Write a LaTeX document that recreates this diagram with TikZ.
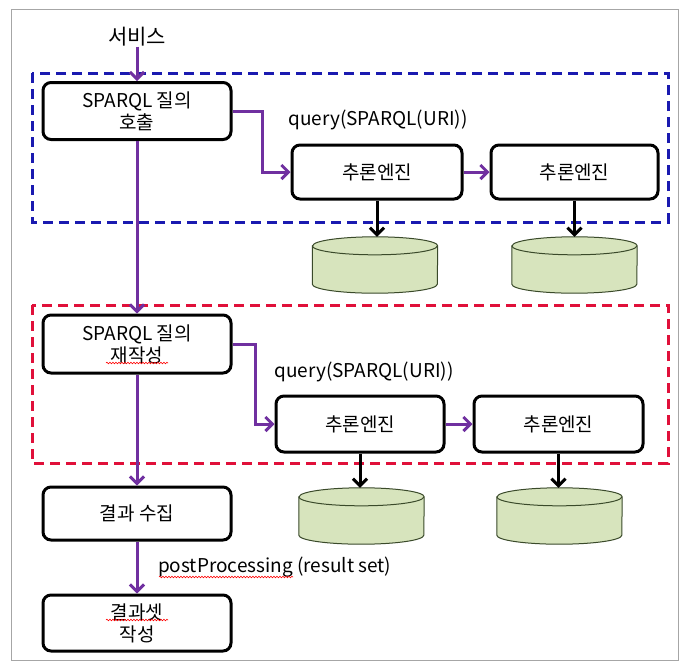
\documentclass[tikz,border=0pt]{standalone}
\usepackage{fontspec}
\setmainfont{Noto Sans CJK KR}
\usetikzlibrary{arrows.meta,calc,decorations.pathmorphing}
\definecolor{purp}{HTML}{7030A0}
\definecolor{dblue}{HTML}{1A1AB0}
\definecolor{dred}{HTML}{E0103A}
\definecolor{cylgreen}{HTML}{D7E4BD}
\definecolor{cylline}{HTML}{3A4A2A}
\newcommand\dbcyl[3]{%
  \node[cyln] (#1) at (#2,#3) {};
  \draw[cylshape] ($(#1.north west)+(0,9)$) -- ($(#1.south west)+(0,-9)$)
    arc[start angle=180,end angle=0,x radius=62.5,y radius=9]
    -- ($(#1.north east)+(0,9)$)
    arc[start angle=0,end angle=-180,x radius=62.5,y radius=9] -- cycle;
  \draw[cylshape,fill=none] ($(#1.north west)+(0,9)$)
    arc[start angle=180,end angle=0,x radius=62.5,y radius=9];
}
\begin{document}
\begin{tikzpicture}[x=1pt,y=-1pt,
  box/.style={draw=black, line width=3pt, rounded corners=8pt, fill=white, inner sep=0pt, align=center, font=\fontsize{19}{22}\selectfont},
  flow/.style={draw=purp, line width=3pt, -{Straight Barb[length=7pt,width=14pt]}},
  dnarrow/.style={draw=black, line width=3pt, -{Straight Barb[length=7pt,width=14pt]}},
  lbl/.style={font=\fontsize{19}{22}\selectfont, inner sep=0pt},
  grp/.style={line width=3pt, dash pattern=on 10pt off 6pt},
  cyln/.style={minimum width=125pt, minimum height=56pt, inner sep=0pt},
  cylshape/.style={draw=cylline, line width=1pt, fill=cylgreen},
  spell/.style={draw=red, line width=0.6pt, decorate, decoration={snake, amplitude=0.8pt, segment length=3pt}}
]
\useasboundingbox (0,0) rectangle (686,662);
\fill[white] (0,0) rectangle (686,662);
\draw[gray!70, line width=1pt] (11,9) rectangle (678,660);

% group frames
\draw[grp, draw=dblue] (32,73) rectangle (668,222);
\draw[grp, draw=dred] (32,305) rectangle (668,463);

% left column
\node[lbl, font=\fontsize{21}{24}\selectfont] (svc) at (137,37) {서비스};
\node[box, minimum width=188pt, minimum height=57pt] (box1) at (137,111) {SPARQL 질의\\호출};
\node[box, minimum width=188pt, minimum height=58pt] (box4) at (137,344) {SPARQL 질의\\재작성};
\node[box, minimum width=188pt, minimum height=53pt] (box7) at (137,513.5) {결과 수집};
\node[box, minimum width=188pt, minimum height=56pt] (box8) at (137,623) {결과셋\\작성};

% engines
\node[box, minimum width=170pt, minimum height=54pt] (box2) at (377,172) {추론엔진};
\node[box, minimum width=167pt, minimum height=54pt] (box3) at (574.5,172) {추론엔진};
\node[box, minimum width=168pt, minimum height=56pt] (box5) at (360,424) {추론엔진};
\node[box, minimum width=169pt, minimum height=56pt] (box6) at (558.5,424) {추론엔진};

% databases
\dbcyl{cyl1}{375}{265}
\dbcyl{cyl2}{574.5}{265}
\dbcyl{cyl3}{361.5}{516}
\dbcyl{cyl4}{559.5}{516}

% labels
\node[lbl] (q1) at (378,120) {query(SPARQL(URI))};
\node[lbl] (q2) at (364,372) {query(SPARQL(URI))};
\node[lbl, anchor=west] (pp) at (158,567) {postProcessing (result set)};

% spell-check underlines
\draw[spell] (106,363) -- (168,363);
\draw[spell] (106,620) -- (168,620);
\draw[spell] (159,577) -- (293,577);

% purple flow
\draw[flow] (svc.south) -- (svc.south |- box1.north);
\draw[flow] (box1.east) -- ++(30,0) |- (box2.west);
\draw[flow] (box2.east) -- (box3.west);
\draw[flow] (box1.south) -- (box4.north);
\draw[flow] (box4.east) -- ++(23,0) |- (box5.west);
\draw[flow] (box5.east) -- (box6.west);
\draw[flow] (box4.south) -- (box7.north);
\draw[flow] (box7.south) -- (box8.north);

% black arrows to databases
\draw[dnarrow] (box2.south) -- (box2.south |- cyl1.north);
\draw[dnarrow] (box3.south) -- (box3.south |- cyl2.north);
\draw[dnarrow] (box5.south) -- (box5.south |- cyl3.north);
\draw[dnarrow] (box6.south) -- (box6.south |- cyl4.north);
\end{tikzpicture}
\end{document}
